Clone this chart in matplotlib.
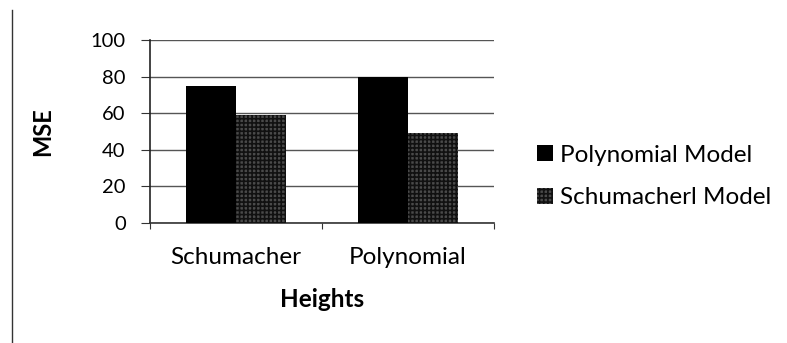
import numpy as np
import matplotlib
matplotlib.use("Agg")
from matplotlib import pyplot as plt
from matplotlib.lines import Line2D

categories = ["Schumacher", "Polynomial"]
series_names = ["Polynomial Model", "Schumacherl Model"]
polynomial_vals = [75, 80]
schumacher_vals = [59, 49]
yticks = [0, 20, 40, 60, 80, 100]

plt.rcParams['font.family'] = ['Lato', 'DejaVu Sans']
plt.rcParams['hatch.linewidth'] = 1.2

fig = plt.figure(figsize=(7.87, 3.43), dpi=100)
ax = fig.add_axes([150 / 787, 1 - 223 / 343, 344 / 787, 183 / 343])

x = np.arange(len(categories))
w = 0.29
ax.bar(x - w / 2, polynomial_vals, w, color="black", label=series_names[0], zorder=3)
ax.bar(x + w / 2, schumacher_vals, w, facecolor="#4a4a4a", edgecolor="#111111",
       hatch="++++", linewidth=0, label=series_names[1], zorder=3)

ax.set_xlim(-0.5, 1.5)
ax.set_ylim(0, 100)
ax.set_yticks(yticks)
ax.tick_params(axis="y", length=6.5, labelsize=14.5, pad=11, color="#333333")
ax.set_xticks([-0.5, 0.5, 1.5])
ax.set_xticklabels([])
ax.tick_params(axis="x", length=4, direction="out", color="#333333")
for i, c in enumerate(categories):
    ax.text(i, -18.6, c, ha="center", va="center", fontsize=17.5)
ax.text(0.5, -0.42, "Heights", ha="center", va="center", fontsize=17.5,
        fontweight="bold", transform=ax.transAxes)
ax.set_ylabel("MSE", fontsize=17, fontweight="bold")
ax.yaxis.set_label_coords(-0.28, 0.5)

ax.grid(axis="y", color="#555555", linewidth=1, zorder=0)
for s in ["top", "right"]:
    ax.spines[s].set_visible(False)
ax.spines["left"].set_color("#222222")
ax.spines["left"].set_linewidth(1.2)
ax.spines["bottom"].set_color("#333333")
ax.spines["bottom"].set_linewidth(1.2)

leg = ax.legend(loc="center left", bbox_to_anchor=(1.125, 0.254), frameon=False,
                fontsize=17.5, handlelength=0.66, handleheight=0.66, handletextpad=0.3,
                labelspacing=0.9, borderaxespad=0, borderpad=0)

fig.add_artist(Line2D([12 / 787, 12 / 787], [0, 1 - 10 / 343], color="#333333",
                      linewidth=1, transform=fig.transFigure))

fig.savefig("out.png", dpi=100, facecolor="white")
